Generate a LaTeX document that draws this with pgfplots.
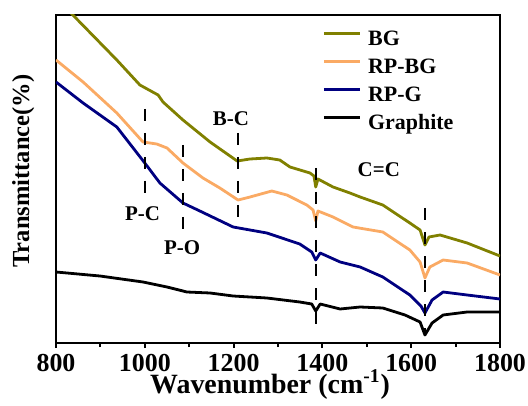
\documentclass[border=0pt]{standalone}
\usepackage{fontspec}
\setmainfont{Liberation Serif}
\usepackage{pgfplots}
\pgfplotsset{compat=1.18}
\definecolor{cBG}{RGB}{128,128,0}
\definecolor{cRPBG}{RGB}{250,170,100}
\definecolor{cRPG}{RGB}{0,0,128}
\begin{document}
\begin{tikzpicture}
\useasboundingbox (-28bp,-31.5bp) rectangle (236bp,171.5bp);
\begin{axis}[
 at={(0,0)}, anchor=south west,
 scale only axis, width=222bp, height=164bp,
 xmin=800, xmax=1800, ymin=0, ymax=328,
 xtick={800,1000,...,1800}, minor xtick={900,1100,...,1700},
 ytick=\empty,
 xtick pos=bottom, tick align=outside,
 major tick length=2.5bp, minor tick length=2bp,
 every tick/.style={black, line width=1bp},
 axis line style={line width=1.3bp},
 /pgf/number format/assume math mode=true,
 /pgf/number format/1000 sep={},
 tick label style={font=\bfseries\fontsize{13}{13}\selectfont},
 xticklabel style={anchor=base, inner sep=0pt, yshift=-11.5bp},
 xlabel={Wavenumber (cm\textsuperscript{-1})},
 ylabel={Transmittance(\%)},
 xlabel style={font=\bfseries\fontsize{14}{15}\selectfont, at={(axis description cs:0.482,0)}, anchor=base, inner sep=0pt, yshift=-25bp},
 ylabel style={font=\bfseries\fontsize{12.3}{13}\selectfont, at={(axis description cs:-0.074,0.524)}, anchor=center},
 legend style={draw=none, fill=none, at={(axis description cs:0.599,0.958)}, anchor=north west,
   font=\bfseries\fontsize{11}{11}\selectfont, inner sep=0pt, row sep=3.6bp,
   nodes={inner sep=0pt, text height=8bp, text depth=2.5bp}},
 legend cell align=left,
 legend image code/.code={\draw[#1] (0bp,0.32em) -- (18bp,0.32em); \path (21.5bp,0bp);},
 every axis plot/.append style={line width=1.4bp, line join=round},
 dline/.style={black, line width=1bp, dash pattern=on 6bp off 6bp, forget plot},
]
\addplot[cBG] coordinates {
(800,346) (838,328) (937,283) (989,258) (1030,248) (1041,241) (1086,223) (1147,201)
(1208,182) (1237,184) (1275,185) (1304,183) (1327,176) (1372,170) (1381,167) (1385,156)
(1390,164) (1424,156) (1462,150) (1485,146) (1536,138) (1597,120) (1620,113) (1631,98)
(1640,106) (1665,108) (1726,100) (1800,87)};
\addlegendentry{BG}
\addplot[cRPBG] coordinates {
(800,283) (861,261) (937,230) (996,201) (1027,199) (1050,195) (1086,180) (1131,165)
(1169,155) (1210,143) (1237,146) (1286,152) (1320,148) (1365,138) (1379,133) (1385,122)
(1390,132) (1424,126) (1469,116) (1536,111) (1597,93) (1620,81) (1631,65) (1642,76)
(1672,83) (1726,80) (1800,68)};
\addlegendentry{RP-BG}
\addplot[cRPG] coordinates {
(800,261) (861,240) (937,216) (1000,180) (1034,160) (1086,140) (1124,132) (1199,116)
(1275,110) (1349,99) (1376,91) (1385,83) (1395,90) (1440,81) (1485,76) (1536,66)
(1597,48) (1622,37) (1631,30) (1647,43) (1672,51) (1726,48) (1800,44)};
\addlegendentry{RP-G}
\addplot[black] coordinates {
(800,71) (899,67) (996,61) (1050,56) (1095,51) (1147,50) (1199,47) (1275,45)
(1349,41) (1376,39) (1385,32) (1395,39) (1440,34) (1485,36) (1536,35) (1586,28)
(1620,21) (1631,8) (1647,20) (1672,28) (1726,31) (1800,31)};
\addlegendentry{Graphite}
\addplot[dline] coordinates {(1000,234) (1000,148)};
\addplot[dline] coordinates {(1085,198) (1085,111)};
\addplot[dline] coordinates {(1209,210) (1209,123)};
\addplot[dline] coordinates {(1385,175) (1385,16)};
\addplot[dline] coordinates {(1630,135) (1630,10)};
\node[font=\bfseries\fontsize{10.5}{11}\selectfont] at (axis cs:1194,224) {B-C};
\node[font=\bfseries\fontsize{10.5}{11}\selectfont] at (axis cs:1527,173) {C=C};
\node[font=\bfseries\fontsize{10.5}{11}\selectfont] at (axis cs:995,129) {P-C};
\node[font=\bfseries\fontsize{10.5}{11}\selectfont] at (axis cs:1084,95) {P-O};
\end{axis}
\end{tikzpicture}
\end{document}
